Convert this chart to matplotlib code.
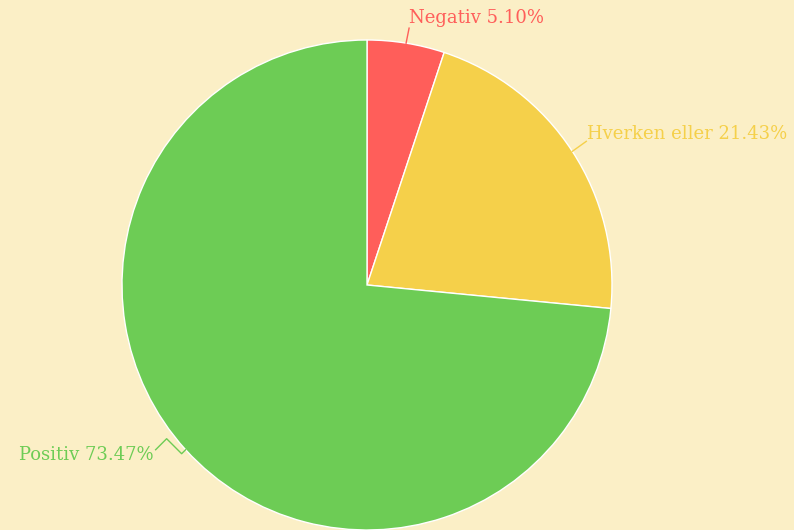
import matplotlib
matplotlib.use("Agg")
import matplotlib.pyplot as plt
import numpy as np

labels = ["Negativ", "Hverken eller", "Positiv"]
values = [5.10, 21.43, 73.47]
colors = ["#FF5E5A", "#F5D04A", "#6DCC55"]
bg = "#FBEFC6"

W, H = 794, 530
fig = plt.figure(figsize=(W / 100, H / 100), dpi=100, facecolor=bg)
ax = fig.add_axes([0, 0, 1, 1])
ax.set_facecolor(bg)

cx, cy, r = 367, H - 285, 245
wedges, _ = ax.pie(values, colors=colors, startangle=90, counterclock=False,
                   center=(cx, cy), radius=r, frame=True,
                   wedgeprops=dict(edgecolor="white", linewidth=1))
ax.set_xlim(0, W)
ax.set_ylim(0, H)
ax.axis("off")

# leader-line paths relative to the edge point (pixels, y up)
paths = [
    [(0, 0), (3, 15)],
    [(0, 0), (14, 10)],
    [(0, 0), (-4, -4), (-19, 11), (-30, 0)],
]
text_off = [(3, 25), (15, 17), (-32, -5)]
aligns = ["left", "left", "right"]

for w, lab, val, col, path, toff, ha in zip(wedges, labels, values, colors,
                                            paths, text_off, aligns):
    ang = np.deg2rad((w.theta1 + w.theta2) / 2)
    ex, ey = cx + r * np.cos(ang), cy + r * np.sin(ang)
    xs = [ex + p[0] for p in path]
    ys = [ey + p[1] for p in path]
    ax.plot(xs, ys, color=col, lw=1)
    ax.text(ex + toff[0], ey + toff[1], f"{lab} {val:.2f}%", color=col,
            ha=ha, va="center", fontsize=13, family="DejaVu Serif")

fig.savefig("out.png", dpi=100, facecolor=bg)
